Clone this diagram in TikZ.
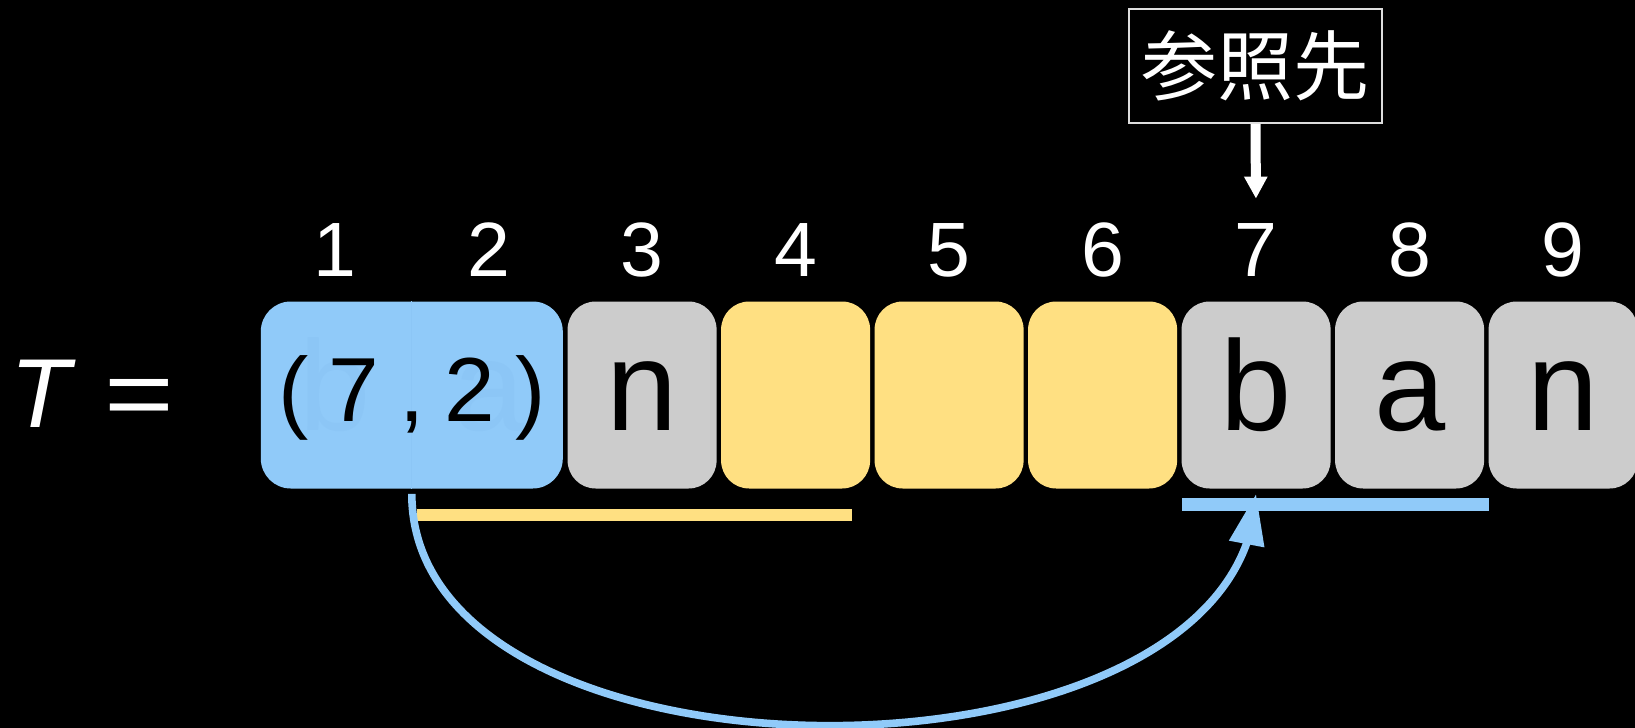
\documentclass[tikz,border=0pt]{standalone}
\usepackage{fontspec}
\setmainfont{Liberation Sans}
\newfontfamily\cjk{Noto Sans CJK JP}
\usepackage{xcolor}
\usepackage{tikz}
\usetikzlibrary{arrows.meta,bending,positioning}
\definecolor{cellgray}{HTML}{CCCCCC}
\definecolor{cellyellow}{HTML}{FFE082}
\definecolor{cellblue}{HTML}{90CAF9}
\definecolor{faintblue}{HTML}{8CC6F6}
\definecolor{refline}{HTML}{DDDDDD}
\tikzset{
  cell/.style={rounded corners=14pt,minimum width=74.5pt,minimum height=93.5pt,inner sep=0pt,
    font=\fontsize{64}{64}\selectfont,text height=35pt,text depth=0pt},
  idx/.style={white,inner sep=0pt,anchor=base,font=\fontsize{38.5}{38.5}\selectfont},
}

\begin{document}
\begin{tikzpicture}[x=0.5pt,y=-0.5pt]
  \fill[black] (0,0) rectangle (1635,728);
  \useasboundingbox (0,0) rectangle (1635,728);
  \node[white,anchor=base west,inner sep=0pt,font=\fontsize{49}{49}\selectfont] (lhs) at (10,427)
    {\textit{T}\hspace{14pt}\scalebox{1.22}[1]{=}};
  % index row
  \node[idx] (n1) at (335.1,276) {1};
  \node[idx] (n2) at (488.6,276) {2};
  \node[idx] (n3) at (642.1,276) {3};
  \node[idx] (n4) at (795.6,276) {4};
  \node[idx] (n5) at (949.1,276) {5};
  \node[idx] (n6) at (1102.6,276) {6};
  \node[idx] (n7) at (1256.1,276) {7};
  \node[idx] (n8) at (1409.6,276) {8};
  \node[idx] (n9) at (1563.1,276) {9};
  % cells
  \node[cell,fill=cellblue,minimum width=151pt,rounded corners=15pt] (pair) at (411.8,395) {};
  \draw[faintblue,line width=0.6pt] (pair.north) -- (pair.south);
  \node[cell,text=faintblue] (fb) at (335.1,395) {b};
  \node[cell,text=faintblue] (fa) at (488.6,395) {a};
  \node[cell,minimum width=151pt,font=\fontsize{45.5}{45.5}\selectfont,text height=26.7pt] (pairtxt) at (411.8,395)
    {(\hspace{10pt}7\hspace{10pt},\hspace{10pt}2\hspace{10pt})};
  \node[cell,fill=cellgray] (c3) at (642.1,395) {n};
  \node[cell,fill=cellyellow] (c4) at (795.6,395) {};
  \node[cell,fill=cellyellow] (c5) at (949.1,395) {};
  \node[cell,fill=cellyellow] (c6) at (1102.6,395) {};
  \node[cell,fill=cellgray] (c7) at (1256.1,395) {b};
  \node[cell,fill=cellgray] (c8) at (1409.6,395) {a};
  \node[cell,fill=cellgray] (c9) at (1563.1,395) {n};
  % spans
  \fill[cellyellow] (417,509) rectangle (852,521);
  \fill[cellblue] (1182,498) rectangle (1489,511);
  % reference label
  \node[draw=refline,line width=0.8pt,text=white,minimum width=126.5pt,minimum height=57pt,inner sep=0pt,
    font=\cjk\fontsize{38}{38}\selectfont] (ref) at (1255.5,66) {参照先};
  \draw[white,line width=5pt,-{Triangle[length=11pt,width=11pt]},shorten >=12pt] (ref.south) -- (n7.north);
  \draw[cellblue,line width=3.8pt,-{Triangle[length=25.5pt,width=17pt,flex]}]
    ([yshift=-2.5pt]pair.south) .. controls +(0,309) and +(-11,309) .. ([yshift=-2.5pt]c7.south);
\end{tikzpicture}
\end{document}
